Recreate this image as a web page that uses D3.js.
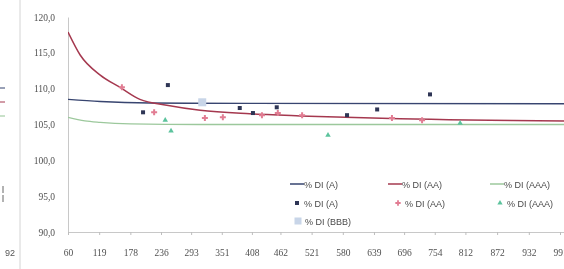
<!DOCTYPE html>
<html>
<head>
<meta charset="utf-8">
<script src="https://cdn.jsdelivr.net/npm/d3@7"></script>
<style>
  body { margin: 0; background: #fff; }
  text { font-family: "Liberation Sans", "DejaVu Sans", sans-serif; }
</style>
</head>
<body>
<div id="wrapper"></div>
<script>
// tick labels on the x axis
const xTicks = [60, 119, 178, 236, 293, 351, 408, 462, 521, 580, 639, 696, 754, 812, 872, 932, 991]
const yTicks = [90, 95, 100, 105, 110, 115, 120]

// trend lines
const lineA   = [[60, 108.5], [121, 108.2], [215, 108.0], [404, 107.95], [1000, 107.9]]
const lineAA  = [[60, 117.9], [83, 114.7], [121, 111.9], [158, 110.2], [196, 108.5], [247, 107.7],
                 [310, 107.0], [404, 106.5], [499, 106.2], [688, 105.8], [1000, 105.5]]
const lineAAA = [[60, 106.0], [92, 105.5], [121, 105.3], [178, 105.1], [310, 105.0], [1000, 105.0]]

// measured points
const pointsA   = [[202, 106.7], [249, 110.5], [385, 107.3], [410, 106.6], [455, 107.4],
                   [588, 106.3], [645, 107.1], [745, 109.2]]
const pointsAA  = [[162, 110.2], [223, 106.7], [319, 105.9], [353, 106.0], [427, 106.3],
                   [457, 106.6], [503, 106.3], [673, 105.9], [730, 105.6]]
const pointsAAA = [[244, 105.6], [255, 104.1], [552, 103.5], [802, 105.2]]
const pointsBBB = [[314, 108.1]]

const lineLabels  = ['% DI (A)', '% DI (AA)', '% DI (AAA)']
const pointLabels = ['% DI (A)', '% DI (AA)', '% DI (AAA)', '% DI (BBB)']

const colors = {
    lineA: '#37446f', lineAA: '#a5394f', lineAAA: '#9cc89c',
    ptA: '#2f3655', ptAA: '#e27d93', ptAAA: '#5cc39d', ptBBB: '#c8d5e8'
}

let dimensions = {
    width: 564,
    height: 269,
    margin: { top: 17, right: 0, bottom: 37, left: 68 }
}
dimensions.boundedWidth = dimensions.width - dimensions.margin.left - dimensions.margin.right
dimensions.boundedHeight = dimensions.height - dimensions.margin.top - dimensions.margin.bottom

const wrapper = d3.select('#wrapper')
    .append('svg')
        .attr('width', dimensions.width)
        .attr('height', dimensions.height)

wrapper.append('defs').append('filter')
    .attr('id', 'scan')
    .append('feGaussianBlur').attr('stdDeviation', 0.4)

wrapper.append('defs').append('clipPath')
    .attr('id', 'plotclip')
    .append('rect')
        .attr('width', dimensions.boundedWidth)
        .attr('height', dimensions.boundedHeight + 2)

const root = wrapper.append('g').attr('filter', 'url(#scan)')

// bits of the neighbouring chart on the left edge of the scan
root.append('line')
    .attr('x1', 20).attr('x2', 20).attr('y1', 0).attr('y2', 269)
    .attr('stroke', '#d4d4d4').attr('stroke-width', 1)
root.append('text')
    .attr('x', 15).attr('y', 256)
    .attr('text-anchor', 'end')
    .attr('font-size', 9).attr('fill', '#555')
    .text('92')
const fragColors = ['#33416f', '#a5394f', '#93c493']
root.selectAll('.frag')
    .data(fragColors)
    .enter().append('line')
        .attr('x1', 0).attr('x2', 5)
        .attr('y1', (d, i) => 88 + i * 14).attr('y2', (d, i) => 88 + i * 14)
        .attr('stroke', d => d).attr('stroke-width', 1)
root.selectAll('.fragbar')
    .data([0, 1])
    .enter().append('line')
        .attr('x1', 3).attr('x2', 3)
        .attr('y1', (d, i) => 186 + i * 9).attr('y2', (d, i) => 193 + i * 9)
        .attr('stroke', '#666').attr('stroke-width', 1)

const bounds = root.append('g')
    .attr('transform', `translate(${dimensions.margin.left},${dimensions.margin.top})`)

// scales
const xScale = d3.scaleLinear()
    .domain([60, 991])
    .range([0, 492])

const yScale = d3.scaleLinear()
    .domain([90, 120])
    .range([dimensions.boundedHeight, 0])

const fmt = d => d3.format('.1f')(d).replace('.', ',')

// axes
const yAxis = bounds.append('g')
    .call(d3.axisLeft(yScale).tickValues(yTicks).tickSize(0).tickPadding(13).tickFormat(fmt))
yAxis.select('.domain').attr('stroke', '#c8c8c8')
yAxis.selectAll('text').attr('fill', '#505050').attr('font-size', 9.5)
    .style('font-family', '"Liberation Serif", "DejaVu Serif", serif')

const xAxis = bounds.append('g')
    .attr('transform', `translate(0,${dimensions.boundedHeight})`)
    .call(d3.axisBottom(xScale).tickValues(xTicks).tickSize(3).tickPadding(14).tickFormat(d3.format('d')))
xAxis.select('.domain').attr('stroke', '#c8c8c8')
    .attr('d', `M0,0.5H${dimensions.boundedWidth + 5}`)
xAxis.selectAll('.tick line').attr('stroke', '#bdbdbd')
xAxis.selectAll('text').attr('fill', '#505050').attr('font-size', 9.5)
    .style('font-family', '"Liberation Serif", "DejaVu Serif", serif')

// lines
const plot = bounds.append('g').attr('clip-path', 'url(#plotclip)')

const lineGenerator = d3.line()
    .x(d => xScale(d[0]))
    .y(d => yScale(d[1]))
    .curve(d3.curveMonotoneX)

const lines = [
    { data: lineAAA, color: colors.lineAAA, w: 1.3 },
    { data: lineA, color: colors.lineA, w: 1.4 },
    { data: lineAA, color: colors.lineAA, w: 1.5 }
]
plot.selectAll('.trend')
    .data(lines)
    .enter().append('path')
        .attr('class', 'trend')
        .attr('d', d => lineGenerator(d.data))
        .attr('fill', 'none')
        .attr('stroke', d => d.color)
        .attr('stroke-width', d => d.w)

// markers
function drawSquares(data, color, size) {
    plot.selectAll(null)
        .data(data)
        .enter().append('rect')
            .attr('x', d => xScale(d[0]) - size / 2)
            .attr('y', d => yScale(d[1]) - size / 2)
            .attr('width', size)
            .attr('height', size)
            .attr('fill', color)
}
function drawSymbols(data, type, color, size) {
    plot.selectAll(null)
        .data(data)
        .enter().append('path')
            .attr('d', d3.symbol().type(type).size(size))
            .attr('transform', d => `translate(${xScale(d[0])},${yScale(d[1])})`)
            .attr('fill', color)
}
drawSquares(pointsBBB, colors.ptBBB, 8)
drawSymbols(pointsAAA, d3.symbolTriangle, colors.ptAAA, 13)
drawSymbols(pointsAA, d3.symbolCross, colors.ptAA, 20)
drawSquares(pointsA, colors.ptA, 4)

// legend
const legend = root.append('g')
const lineCols = [290, 388, 490]
lineLabels.forEach((label, i) => {
    const g = legend.append('g').attr('transform', `translate(${lineCols[i]},184)`)
    g.append('line').attr('x1', 0).attr('x2', 14).attr('y1', 0).attr('y2', 0)
        .attr('stroke', [colors.lineA, colors.lineAA, colors.lineAAA][i]).attr('stroke-width', 1.5)
    g.append('text').attr('x', 14).attr('y', 3.5)
        .attr('font-size', 9).attr('fill', '#4a4a4a').text(label)
})
const pointPos = [[297, 203], [398, 203], [500, 203], [298, 221]]
pointLabels.forEach((label, i) => {
    const [px, py] = pointPos[i]
    const g = legend.append('g').attr('transform', `translate(${px},${py})`)
    if (i === 0) g.append('rect').attr('x', -2).attr('y', -2).attr('width', 4).attr('height', 4).attr('fill', colors.ptA)
    if (i === 1) g.append('path').attr('d', d3.symbol().type(d3.symbolCross).size(16)).attr('fill', colors.ptAA)
    if (i === 2) g.append('path').attr('d', d3.symbol().type(d3.symbolTriangle).size(12)).attr('fill', colors.ptAAA)
    if (i === 3) g.append('rect').attr('x', -3.5).attr('y', -3.5).attr('width', 7).attr('height', 7).attr('fill', colors.ptBBB)
    g.append('text').attr('x', 7).attr('y', 3.5)
        .attr('font-size', 9).attr('fill', '#4a4a4a').text(label)
})
</script>
</body>
</html>
